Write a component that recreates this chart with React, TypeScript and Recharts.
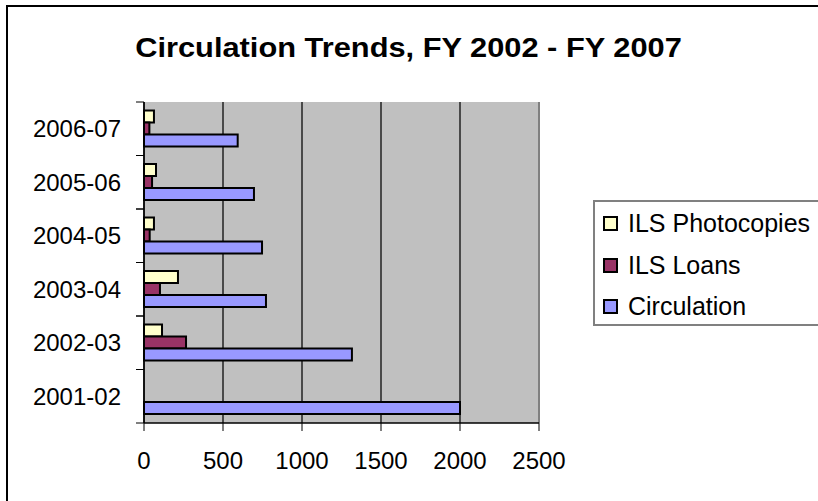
import React from 'react';
import { BarChart, Bar, XAxis, YAxis, CartesianGrid, Legend, ReferenceLine } from 'recharts';

const years = ['2001-02', '2002-03', '2003-04', '2004-05', '2005-06', '2006-07'];
const circulation = [2000, 1316, 772, 747, 696, 593];
const ilsLoans = [null, 266, 101, 36, 51, 34];
const ilsPhotocopies = [null, 114, 215, 63, 76, 63];
const xTicks = [0, 500, 1000, 1500, 2000, 2500];
const legendOrder = ['ILS Photocopies', 'ILS Loans', 'Circulation'];

const data = years.map((y, i) => ({
  year: y,
  circulation: circulation[i],
  loans: ilsLoans[i],
  photocopies: ilsPhotocopies[i],
}));

const FONT = '"Liberation Sans", Arial, sans-serif';

const YTick = (props: any) => {
  const { x, y, payload } = props;
  const off = payload && typeof payload.offset === 'number' ? payload.offset : 26.75;
  const lx1 = x + 15;
  const lx2 = x + 23;
  return (
    <g>
      <text x={x} y={y} dy="0.355em" textAnchor="end" fontSize={24} fill="#000" fontFamily={FONT}>
        {payload.value}
      </text>
      <line x1={lx1} x2={lx2} y1={y - off} y2={y - off} stroke="#000" strokeWidth={1} />
      <line x1={lx1} x2={lx2} y1={y + off} y2={y + off} stroke="#000" strokeWidth={1} />
    </g>
  );
};

const LegendBox = (props: any) => {
  const payload = [...(props.payload || [])].sort(
    (a: any, b: any) => legendOrder.indexOf(a.value) - legendOrder.indexOf(b.value)
  );
  return (
    <div
      style={{
        width: 320,
        height: 126,
        borderTop: '2px solid #808080',
        borderLeft: '2px solid #808080',
        borderBottom: '2px solid #808080',
        borderRight: 'none',
        background: '#fff',
        boxSizing: 'border-box',
        paddingTop: 1,
        fontFamily: FONT,
      }}
    >
      {payload.map((p: any) => (
        <div key={p.value} style={{ height: 41.5, display: 'flex', alignItems: 'center' }}>
          <span
            style={{
              display: 'inline-block',
              flex: 'none',
              width: 11,
              height: 11,
              marginLeft: 8,
              border: '2px solid #000',
              background: p.color,
            }}
          />
          <span style={{ marginLeft: 10, fontSize: 25, color: '#000', whiteSpace: 'nowrap' }}>{p.value}</span>
        </div>
      ))}
    </div>
  );
};

export default function App() {
  return (
    <div
      style={{
        position: 'fixed',
        left: 0,
        top: 0,
        width: 818,
        height: 501,
        overflow: 'hidden',
        background: '#fff',
      }}
    >
      <div
        style={{
          position: 'absolute',
          left: 6,
          top: 5,
          width: 830,
          height: 520,
          borderLeft: '2px solid #000',
          borderTop: '2px solid #000',
        }}
      />
      <div
        style={{
          position: 'absolute',
          left: 6,
          top: 32,
          width: 806,
          textAlign: 'center',
          fontFamily: FONT,
          fontWeight: 'bold',
          fontSize: 28,
          lineHeight: '32px',
          color: '#000',
          transform: 'scaleX(1.1)',
          transformOrigin: '408px 50%',
        }}
      >
        Circulation Trends, FY 2002 - FY 2007
      </div>
      <div style={{ position: 'absolute', left: 0, top: 0 }}>
        <BarChart
          width={818}
          height={501}
          data={data}
          layout="vertical"
          margin={{ top: 102, right: 279, bottom: 18, left: 0 }}
          barCategoryGap="16%"
          barGap={0}
        >
          <CartesianGrid horizontal={false} fill="#C0C0C0" stroke="#222" strokeWidth={1.5} />
          <XAxis
            type="number"
            domain={[0, 2500]}
            ticks={xTicks}
            interval={0}
            height={60}
            tickSize={8}
            tickMargin={21}
            axisLine={{ stroke: '#000', strokeWidth: 1.5 }}
            tickLine={{ stroke: '#000', strokeWidth: 1 }}
            tick={{ fontSize: 24, fill: '#000', fontFamily: FONT }}
          />
          <XAxis
            xAxisId="top"
            orientation="top"
            type="number"
            domain={[0, 2500]}
            height={0}
            tick={false}
            tickLine={false}
            axisLine={{ stroke: '#808080', strokeWidth: 2 }}
          />
          <YAxis
            type="category"
            dataKey="year"
            reversed
            width={144}
            tickSize={8}
            tickMargin={15}
            tickLine={false}
            interval={0}
            axisLine={{ stroke: '#000', strokeWidth: 1.5 }}
            tick={<YTick />}
          />
          <ReferenceLine x={2500} stroke="#808080" strokeWidth={2} />
          <Legend
            layout="vertical"
            align="center"
            verticalAlign="middle"
            wrapperStyle={{ left: 593, top: 200, width: 320 }}
            content={<LegendBox />}
          />
          <Bar dataKey="photocopies" name="ILS Photocopies" fill="#FFFFCC" stroke="#000" strokeWidth={2} isAnimationActive={false} />
          <Bar dataKey="loans" name="ILS Loans" fill="#993366" stroke="#000" strokeWidth={2} isAnimationActive={false} />
          <Bar dataKey="circulation" name="Circulation" fill="#9999FF" stroke="#000" strokeWidth={2} isAnimationActive={false} />
        </BarChart>
      </div>
    </div>
  );
}
